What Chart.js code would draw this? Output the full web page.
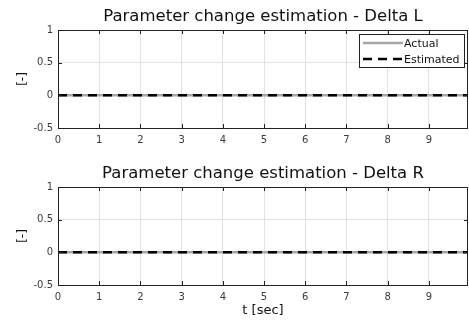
<!DOCTYPE html>
<html>
<head>
<meta charset="utf-8">
<script src="https://cdn.jsdelivr.net/npm/chart.js@4.4.0/dist/chart.umd.min.js"></script>
<style>
  html, body { margin: 0; padding: 0; background: #fff; }
  #wrap { position: relative; width: 469px; height: 326px; overflow: hidden; }
  canvas { position: absolute; left: 0; }
  #top { top: 0; }
  #bottom { top: 157px; }
</style>
</head>
<body>
<div id="wrap">
  <canvas id="top" width="469" height="163"></canvas>
  <canvas id="bottom" width="469" height="169"></canvas>
</div>
<script>
// time axis samples [sec]
const tSec = [0, 2, 4, 6, 8, 10];
// Delta L
const actualL = [0, 0, 0, 0, 0, 0];
const estimatedL = [0, 0, 0, 0, 0, 0];
// Delta R
const actualR = [0, 0, 0, 0, 0, 0];
const estimatedR = [0, 0, 0, 0, 0, 0];

const xTicks = [0, 1, 2, 3, 4, 5, 6, 7, 8, 9];
const yTicks = [-0.5, 0, 0.5, 1];

const FONT = "'DejaVu Sans', 'Liberation Sans', Arial, sans-serif";
const gridColor = '#e2e2e2';
const tickColor = '#3a3a3a';

const toPoints = (xs, ys) => xs.map((x, i) => ({ x: x, y: ys[i] }));

// box around the plot area plus MATLAB style inward tick marks
const boxPlugin = {
  id: 'box',
  afterDraw(chart) {
    const { ctx, chartArea: a, scales } = chart;
    ctx.save();
    ctx.strokeStyle = '#222';
    ctx.lineWidth = 1;
    ctx.beginPath();
    xTicks.forEach(v => {
      const px = Math.round(scales.x.getPixelForValue(v)) + 0.5;
      ctx.moveTo(px, a.top); ctx.lineTo(px, a.top + 4);
      ctx.moveTo(px, a.bottom); ctx.lineTo(px, a.bottom - 4);
    });
    yTicks.forEach(v => {
      const py = Math.round(scales.y.getPixelForValue(v)) + 0.5;
      ctx.moveTo(a.left, py); ctx.lineTo(a.left + 4, py);
      ctx.moveTo(a.right, py); ctx.lineTo(a.right - 4, py);
    });
    ctx.stroke();
    ctx.strokeRect(Math.round(a.left) + 0.5, Math.round(a.top) + 0.5,
      Math.round(a.right - a.left) - 1, Math.round(a.bottom - a.top));
    ctx.restore();
  }
};

// legend box in the upper right corner (only on first plot)
const legendPlugin = {
  id: 'boxLegend',
  afterDraw(chart, args, opts) {
    if (!opts.show) return;
    const { ctx } = chart;
    const ds = chart.data.datasets;
    const x0 = 359, y0 = 34, w = 105, h = 33;
    ctx.save();
    ctx.fillStyle = '#fff';
    ctx.fillRect(x0, y0, w, h);
    ctx.strokeStyle = '#222';
    ctx.lineWidth = 1;
    ctx.strokeRect(x0 + 0.5, y0 + 0.5, w, h);
    ds.forEach((d, i) => {
      const y = y0 + 9 + i * 16;
      ctx.beginPath();
      ctx.strokeStyle = d.borderColor;
      ctx.lineWidth = d.borderWidth;
      ctx.setLineDash(d.borderDash || []);
      ctx.moveTo(x0 + 4, y);
      ctx.lineTo(x0 + 44, y);
      ctx.stroke();
      ctx.setLineDash([]);
      ctx.fillStyle = '#111';
      ctx.font = '11px ' + FONT;
      ctx.textBaseline = 'middle';
      ctx.fillText(d.label, x0 + 45, y + 1);
    });
    ctx.restore();
  }
};

function makeChart(canvasId, title, actual, estimated, xTitle, xHeight, showLegend) {
  return new Chart(document.getElementById(canvasId), {
    type: 'line',
    data: {
      datasets: [
        {
          label: 'Actual',
          data: toPoints(tSec, actual),
          borderColor: '#a6a6a6',
          borderWidth: 2.5,
          pointRadius: 0,
          order: 1
        },
        {
          label: 'Estimated',
          data: toPoints(tSec, estimated),
          borderColor: '#000',
          borderWidth: 2.5,
          borderDash: [9, 6],
          pointRadius: 0,
          order: 0
        }
      ]
    },
    options: {
      responsive: false,
      animation: false,
      layout: { padding: { left: 0, right: 1, top: 0, bottom: 0 } },
      plugins: {
        legend: { display: false },
        tooltip: { enabled: false },
        title: {
          display: true,
          fullSize: false,
          text: title,
          color: '#111',
          font: { family: FONT, size: 16.5, weight: 'normal' },
          padding: { top: 7, bottom: 3.2 }
        },
        boxLegend: { show: showLegend }
      },
      scales: {
        x: {
          type: 'linear',
          min: 0,
          max: 9.95,
          afterBuildTicks: s => { s.ticks = xTicks.map(v => ({ value: v })); },
          afterFit: s => { s.height = xHeight; },
          grid: { color: gridColor, drawTicks: false },
          border: { display: false },
          ticks: { color: tickColor, font: { family: FONT, size: 10 }, padding: 6, maxRotation: 0 },
          title: {
            display: !!xTitle,
            text: xTitle,
            color: '#111',
            font: { family: FONT, size: 13 },
            padding: { top: 0, bottom: 8 }
          }
        },
        y: {
          min: -0.5,
          max: 1,
          afterBuildTicks: s => { s.ticks = yTicks.map(v => ({ value: v })); },
          afterFit: s => { s.width = 58; },
          grid: { color: gridColor, drawTicks: false },
          border: { display: false },
          ticks: {
            color: tickColor,
            font: { family: FONT, size: 10 },
            padding: 5,
            callback: v => String(v)
          },
          title: {
            display: true,
            text: '[-]',
            color: '#111',
            font: { family: FONT, size: 12 },
            padding: { top: 16, bottom: 0 }
          }
        }
      }
    },
    plugins: [boxPlugin, legendPlugin]
  });
}

makeChart('top', 'Parameter change estimation - Delta L', actualL, estimatedL, '', 35, true);
makeChart('bottom', 'Parameter change estimation - Delta R', actualR, estimatedR, 't [sec]', 41, false);
</script>
</body>
</html>
